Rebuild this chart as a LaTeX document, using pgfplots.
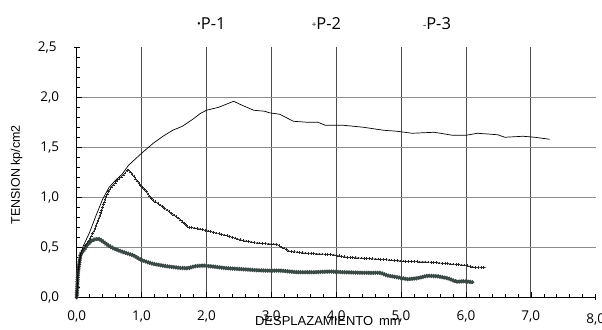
\documentclass[border=0pt]{standalone}
\usepackage{pgfplots}
\pgfplotsset{compat=1.18}
\usepackage{fontspec}
\setmainfont{Open Sans}
\newfontfamily\arialfont{Liberation Sans}
\usetikzlibrary{calc,decorations.markings}
\definecolor{pone}{RGB}{58,72,70}
\begin{document}
\begin{tikzpicture}
\begin{axis}[name=ax, scale only axis, width=519.2pt, height=250pt,
  xmin=0, xmax=8, ymin=0, ymax=2.5,
  axis lines=left, axis line style={-, line width=0.9pt, black},
  xtick={0,1,...,7}, extra x ticks={8},
  ytick={0,0.5,1,1.5,2}, extra y ticks={2.5},
  extra tick style={grid=none, tick align=center},
  minor xtick={0,0.2,...,8}, minor ytick={0,0.1,...,2.5},
  grid=major,
  x grid style={line width=0.7pt, color=black!70},
  y grid style={line width=0.6pt, color=black!45},
  tick align=inside, major tick length=5pt, minor tick length=3.5pt,
  tick style={black, line width=0.6pt},
  /pgf/number format/.cd, use comma, fixed, fixed zerofill, precision=1, assume math mode=true,
  /pgfplots/.cd,
  tick label style={font=\fontsize{13.5}{13.5}\selectfont},
  xticklabel style={yshift=-10pt},
  yticklabel style={xshift=-14pt},
  xlabel={\arialfont DESPLAZAMIENTO\, mm},
  xlabel style={at={(rel axis cs:0.484,0)}, anchor=center, yshift=-24pt, font=\fontsize{13}{13}\selectfont},
  ylabel={\arialfont TENSION kp/cm2},
  every axis y label/.style={at={(rel axis cs:0,0.49)}, anchor=center, rotate=90, yshift=60pt, font=\fontsize{12.5}{12.5}\selectfont},
  clip=false,
]
% P-1
\addplot[pone, line width=1.3pt, postaction={decorate},
  decoration={markings, mark=between positions 0 and 1 step 2.2pt with {\fill[pone] (0,0) circle (1.35pt);}}]
coordinates {(0,0) (0.02,0.25) (0.06,0.43) (0.12,0.48) (0.17,0.53) (0.25,0.574) (0.33,0.585) (0.38,0.57) (0.46,0.53) (0.56,0.49) (0.72,0.45) (0.87,0.42) (1.0,0.37) (1.18,0.333) (1.38,0.31) (1.59,0.293) (1.72,0.29) (1.82,0.31) (1.95,0.317) (2.1,0.307) (2.31,0.29) (2.56,0.28) (2.77,0.27) (2.97,0.265) (3.13,0.267) (3.39,0.25) (3.65,0.25) (3.91,0.257) (4.11,0.25) (4.42,0.244) (4.68,0.244) (4.79,0.217) (4.94,0.20) (5.1,0.18) (5.25,0.19) (5.41,0.215) (5.56,0.21) (5.72,0.19) (5.85,0.155) (5.98,0.16) (6.1,0.15)};
% P-2
\addplot[black!85, line width=0.5pt, postaction={decorate},
  decoration={markings, mark=between positions 0 and 1 step 2.8pt with {\pgftransformresetnontranslations \draw[black!85, line width=0.45pt] (-1.3pt,0)--(1.3pt,0) (0,-1.3pt)--(0,1.3pt);}}]
coordinates {(0,0) (0.02,0.25) (0.06,0.42) (0.1,0.48) (0.2,0.58) (0.27,0.67) (0.34,0.79) (0.40,0.90) (0.45,1.0) (0.52,1.09) (0.63,1.17) (0.73,1.23) (0.79,1.28) (0.88,1.21) (0.99,1.11) (1.08,1.05) (1.17,0.97) (1.23,0.95) (1.44,0.85) (1.59,0.78) (1.72,0.70) (1.85,0.69) (2.0,0.667) (2.31,0.617) (2.56,0.567) (2.77,0.543) (2.97,0.533) (3.08,0.53) (3.28,0.46) (3.54,0.44) (3.96,0.424) (4.16,0.40) (4.68,0.38) (5.04,0.36) (5.46,0.35) (5.98,0.32) (6.13,0.30) (6.31,0.296)};
% P-3
\addplot[black, line width=0.7pt]
coordinates {(0,0) (0.02,0.25) (0.06,0.43) (0.1,0.51) (0.2,0.65) (0.3,0.82) (0.4,0.98) (0.5,1.10) (0.6,1.17) (0.7,1.23) (0.8,1.32) (0.9,1.38) (1.0,1.44) (1.18,1.54) (1.33,1.61) (1.48,1.67) (1.63,1.71) (1.79,1.78) (1.91,1.84) (2.0,1.87) (2.19,1.90) (2.42,1.96) (2.55,1.92) (2.73,1.87) (2.90,1.86) (2.97,1.845) (3.13,1.83) (3.34,1.76) (3.55,1.75) (3.72,1.75) (3.83,1.72) (4.11,1.72) (4.42,1.70) (4.73,1.67) (4.94,1.66) (5.17,1.64) (5.51,1.65) (5.79,1.62) (6.0,1.62) (6.18,1.64) (6.49,1.625) (6.60,1.60) (6.88,1.61) (7.06,1.60) (7.29,1.58)};
\end{axis}
\node[anchor=west, inner sep=0pt, font=\fontsize{16.5}{16.5}\selectfont] at ($(ax.north west)+(120.3pt,24pt)$) {\raisebox{2pt}{\fontsize{10}{10}\selectfont •}P-1};
\node[anchor=west, inner sep=0pt, font=\fontsize{16.5}{16.5}\selectfont] at ($(ax.north west)+(235pt,24pt)$) {\raisebox{2pt}{\fontsize{8}{8}\selectfont +}P-2};
\node[anchor=west, inner sep=0pt, font=\fontsize{16.5}{16.5}\selectfont] at ($(ax.north west)+(346.3pt,24pt)$) {\raisebox{1pt}{\fontsize{10}{10}\selectfont -}P-3};
\pgfresetboundingbox
\path ($(ax.south west)+(-76.7pt,-32.7pt)$) rectangle ($(ax.north east)+(6.3pt,47.3pt)$);
\end{tikzpicture}
\end{document}
